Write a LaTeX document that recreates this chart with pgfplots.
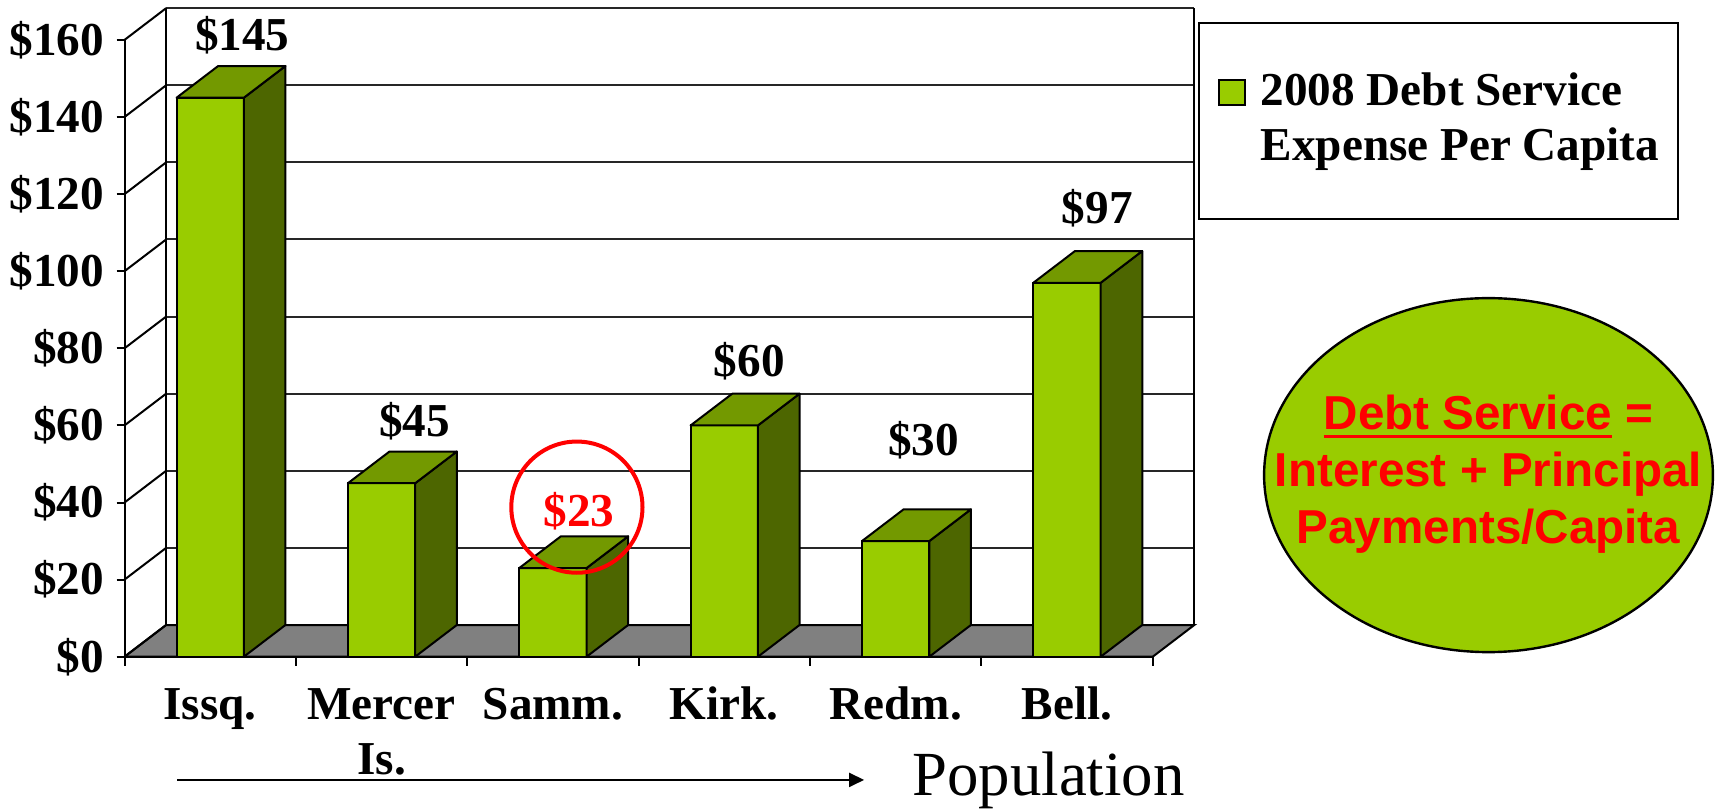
\documentclass[border=0pt]{standalone}
\usepackage{fontspec}
\setmainfont{Liberation Serif}
\newfontfamily\arial{Liberation Sans}
\usepackage{pgfplots}
\usepackage{pgfplotstable}
\pgfplotsset{compat=1.18}
\usetikzlibrary{arrows.meta}
\definecolor{barfront}{HTML}{99CC00}
\definecolor{barside}{HTML}{4D6600}
\definecolor{bartop}{HTML}{739900}
\definecolor{floorgray}{HTML}{808080}
\newcommand\tnr{\bfseries\fontsize{11.8}{13.75}\selectfont}
\newcommand\ul[1]{\setbox0\hbox{#1}\rlap{\rule[-2pt]{\wd0}{0.75pt}}\box0\relax}

\pgfplotstableread{
x v
0.5 145
1.5 45
2.5 23
3.5 60
4.5 30
5.5 97
}\data

\begin{document}
\begin{tikzpicture}
\begin{axis}[
  scale only axis, width=257.05pt, height=154.2pt,
  xmin=0, xmax=6, ymin=0, ymax=160,
  clip=false,
  axis x line*=bottom, axis y line*=left,
  axis line style={line width=0.5pt},
  tick align=outside,
  xtick={0.5,1.5,...,5.5},
  xticklabels={Issq., {\begin{tabular}[t]{@{}c@{}}Mercer\\Is.\end{tabular}}, Samm., Kirk., Redm., Bell.},
  major x tick style={draw=none},
  minor xtick={0,...,6},
  minor tick length=2.25pt,
  ytick={0,20,...,160},
  yticklabels={\$0,\$20,\$40,\$60,\$80,\$100,\$120,\$140,\$160},
  major tick length=2pt,
  tick style={line width=0.5pt, black},
  xticklabel style={font=\tnr, anchor=base, yshift=-13.8pt},
  yticklabel style={font=\tnr, inner xsep=2.9pt},
  legend style={at={(1.0442,1.0292)}, anchor=north west, draw=black, line width=0.5pt,
    inner xsep=4.75pt, inner ysep=12.07pt, row sep=2.65pt, column sep=3.75pt,
    nodes={inner sep=0pt, text height=8.5pt, text depth=2.6pt},
    font=\tnr},
  legend cell align=left,
]
\coordinate (O) at (rel axis cs:0,0);
% floor
\draw[fill=floorgray, line width=0.5pt] (axis cs:0,0) -- (axis cs:6,0) -- ([shift={(10.4pt,7.93pt)}]axis cs:6,0) -- ([shift={(10.4pt,7.93pt)}]axis cs:0,0) -- cycle;
% back wall
\pgfplotsinvokeforeach{20,40,...,160}{
  \draw[line width=0.5pt, black!85] ([shift={(10.4pt,7.93pt)}]axis cs:0,#1) -- ([shift={(10.4pt,7.93pt)}]axis cs:6,#1);
}
\draw[line width=0.5pt] ([shift={(10.4pt,7.93pt)}]axis cs:0,0) -- ([shift={(10.4pt,7.93pt)}]axis cs:0,160);
\draw[line width=0.5pt] ([shift={(10.4pt,7.93pt)}]axis cs:6,0) -- ([shift={(10.4pt,7.93pt)}]axis cs:6,160);
% left wall
\pgfplotsinvokeforeach{0,20,...,160}{
  \draw[line width=0.5pt] (axis cs:0,#1) -- ([shift={(10.4pt,7.93pt)}]axis cs:0,#1);
}
% bars
\addplot[ybar, bar width=0.3927, fill=barfront, draw=black, line width=0.5pt,
  legend image code/.code={\draw[fill=barfront, draw=black, line width=0.4pt] (0pt,-2.95pt) rectangle (6.5pt,3.3pt);}]
  table[x=x, y=v] {\data};
\addlegendentry{2008 Debt Service}
\addlegendimage{empty legend}
\addlegendentry{Expense Per Capita}
\pgfplotsinvokeforeach{0,...,5}{
  \pgfplotstablegetelem{#1}{x}\of\data \let\bx=\pgfplotsretval
  \pgfplotstablegetelem{#1}{v}\of\data \let\bv=\pgfplotsretval
  \edef\temp{%
    \noexpand\draw[fill=barside, line width=0.5pt, line join=round] (axis cs:\bx+0.19635,0) -- ([shift={(10.4pt,7.93pt)}]axis cs:\bx+0.19635,0) -- ([shift={(10.4pt,7.93pt)}]axis cs:\bx+0.19635,\bv) -- (axis cs:\bx+0.19635,\bv) -- cycle;
    \noexpand\draw[fill=bartop, line width=0.5pt, line join=round] (axis cs:\bx-0.19635,\bv) -- (axis cs:\bx+0.19635,\bv) -- ([shift={(10.4pt,7.93pt)}]axis cs:\bx+0.19635,\bv) -- ([shift={(10.4pt,7.93pt)}]axis cs:\bx-0.19635,\bv) -- cycle;
  }
  \temp
}
% value labels
\node[font=\tnr, anchor=base] at (axis cs:0.688,157.3) {\$145};
\node[font=\tnr, anchor=base] at (axis cs:1.693,57.05) {\$45};
\node[font=\tnr, anchor=base, text=red] at (axis cs:2.652,33.7) {\$23};
\node[font=\tnr, anchor=base] at (axis cs:3.646,72.6) {\$60};
\node[font=\tnr, anchor=base] at (axis cs:4.663,52.3) {\$30};
\node[font=\tnr, anchor=base] at (axis cs:5.677,112.4) {\$97};
\draw[red, line width=1pt] (axis cs:2.640,38.8) circle [radius=16.4pt];
% ellipse note
\draw[fill=barfront, line width=0.6pt] ([shift={(341pt,45.4pt)}]rel axis cs:0,0) ellipse [x radius=56.1pt, y radius=44.25pt];
\node[anchor=base, inner sep=0pt, text=red, font=\arial\bfseries\fontsize{11.9}{14.25}\selectfont]
  at ([shift={(341pt,56.7pt)}]rel axis cs:0,0)
  {\begin{tabular}[t]{@{}c@{}}\ul{Debt Service} =\\Interest + Principal\\Payments/Capita\end{tabular}};
% population arrow
\draw[line width=0.5pt, -{Triangle[length=3.75pt,width=3.5pt]}] ([shift={(13.2pt,-30.8pt)}]rel axis cs:0,0) -- ([shift={(184.9pt,-30.8pt)}]rel axis cs:0,0);
\node[anchor=base west, inner sep=0pt, font=\fontsize{15.7}{18}\selectfont] at ([shift={(196.8pt,-34.6pt)}]rel axis cs:0,0) {Population};
\end{axis}
\pgfresetboundingbox
\path[use as bounding box] ([shift={(-31.125pt,-37.825pt)}]O) rectangle ([shift={(399.125pt,164.175pt)}]O);
\end{tikzpicture}
\end{document}
